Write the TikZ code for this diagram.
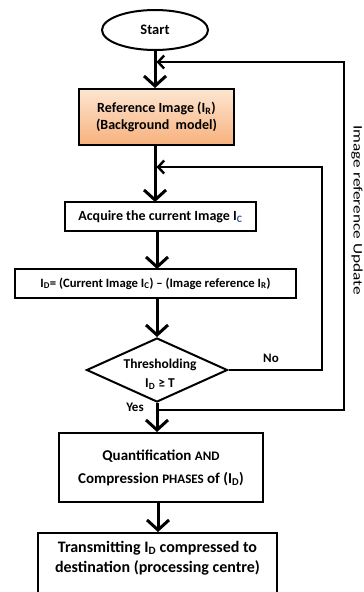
\documentclass[tikz,border=0pt]{standalone}
\usepackage{fontspec}
\usepackage{graphicx}
\setmainfont{Carlito}
\usetikzlibrary{shapes.geometric,arrows.meta}
\newcommand\lsub[1]{\textsubscript{#1}}
\newcommand\fs[2]{\fontsize{#1}{#2}\selectfont}
\definecolor{reftop}{HTML}{FDE6D2}
\definecolor{refbot}{HTML}{F7B17C}
\definecolor{subblue}{HTML}{2F5597}
\begin{document}
\begin{tikzpicture}[x=1pt,y=-1pt,
  font=\bfseries\fs{14}{17},
  box/.style={draw, rectangle, line width=2pt, inner sep=0pt, align=center},
  arr/.style={line width=3pt, -{Straight Barb[length=10pt,width=22pt,line width=3pt]}},
  back/.style={line width=2.4pt, line join=miter, -{Straight Barb[length=6pt,width=13pt,line width=2.4pt]}},
  lbl/.style={inner sep=0pt, align=center}]
\useasboundingbox (0,0) rectangle (364,592);
\clip (0,0) rectangle (364,592);

\node[draw, ellipse, line width=2pt, minimum width=106pt, minimum height=40pt, inner sep=0pt, font=\bfseries\fs{14.5}{17}] (start) at (155,30) {Start};

\node[box, minimum width=155pt, minimum height=56pt, top color=reftop, bottom color=refbot] (ref) at (156.5,117)
  {Reference Image (I\lsub{R})\\(Background\ \ model)};

\node[box, minimum width=191pt, minimum height=29pt] (acq) at (160.5,216.5)
  {Acquire the current Image I\lsub{\textcolor{subblue}{C}}};

\node[box, minimum width=281pt, minimum height=29pt, font=\bfseries\fs{12.7}{15}] (idb) at (155.5,283.5)
  {I\lsub{D}= (Current Image I\lsub{C}) -- (Image reference I\lsub{R})};

\node[draw, diamond, line width=2pt, minimum width=141pt, minimum height=64pt, inner sep=0pt] (dia) at (157,370) {};
\node[lbl, font=\bfseries\fs{13.5}{19}] (diatext) at (160,374) {Thresholding\\I\lsub{D} ≥ T};

\node[box, minimum width=204pt, minimum height=69pt, font=\bfseries\fs{15}{23}] (quant) at (161,467.5)
  {Quantification {\fs{13}{15}AND}\\Compression {\fs{13}{15}PHASES} of (I\lsub{D})};

\node[box, anchor=north, minimum width=239pt, minimum height=90pt] (trans) at (157.5,532) {};
\node[lbl, font=\bfseries\fs{16}{20}] (transtext) at (157.5,558)
  {Transmitting I\lsub{D} compressed to\\destination (processing centre)};

\coordinate (m1) at (155,62);
\coordinate (m2) at (155,167);
\coordinate (o1) at (344,410);
\coordinate (o2) at (344,62);
\coordinate (j1) at (158,410);
\coordinate (i1) at (322,370);
\coordinate (i2) at (322,167);

\draw[arr] (start.south) -- (start.south |- ref.north);
\draw[arr] (155,146) -- (155,202);
\draw[arr] (157,231) -- (157,269);
\draw[arr] (157,298) -- (dia.north);
\draw[arr] (dia.south) -- (dia.south |- quant.north);
\draw[arr] (158,502) -- (158,532);

\draw[back] (j1) -- (o1) -- (o2) -- ([xshift=1.5pt]m1);
\draw[back] (dia.east) -- (i1) -- (i2) -- ([xshift=1.5pt]m2);

\node[lbl, font=\bfseries\fs{13}{15}] (no) at (271,358) {No};
\node[lbl, font=\bfseries\fs{13}{15}] (yes) at (135,407) {Yes};
\node[lbl, rotate=-90, font=\fs{13}{15}] (upd) at (357,210) {\scalebox{1.33}[1]{Image reference Update}};
\end{tikzpicture}
\end{document}
